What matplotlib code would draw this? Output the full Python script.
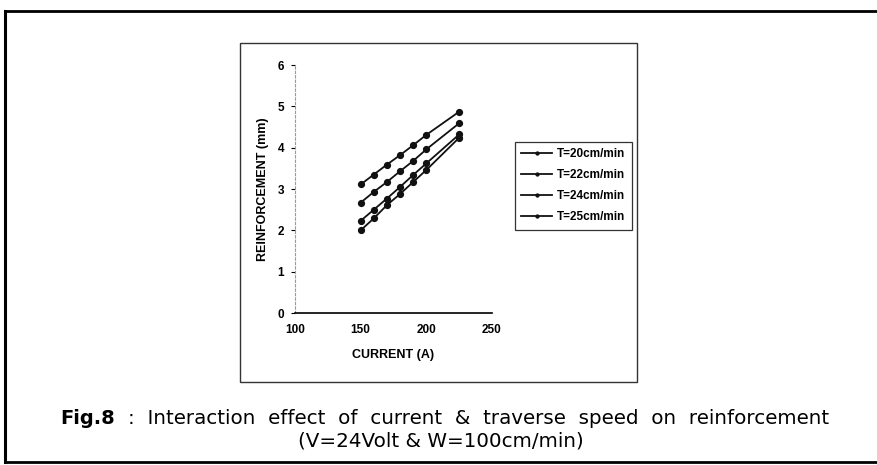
#!/usr/bin/env python3

import numpy as np
import matplotlib
matplotlib.use("Agg")
import matplotlib.pyplot as plt
from matplotlib.lines import Line2D
from matplotlib.patches import Rectangle

current = [150, 160, 170, 180, 190, 200, 225]
t20 = [3.11, 3.35, 3.59, 3.82, 4.06, 4.31, 4.87]
t22 = [2.67, 2.93, 3.17, 3.43, 3.68, 3.96, 4.59]
t24 = [2.23, 2.50, 2.77, 3.05, 3.34, 3.62, 4.32]
t25 = [2.00, 2.29, 2.61, 2.88, 3.17, 3.46, 4.24]
labels = ["T=20cm/min", "T=22cm/min", "T=24cm/min", "T=25cm/min"]
x_ticks = [100, 150, 200, 250]
y_ticks = [0, 1, 2, 3, 4, 5, 6]


def main():
  plt.rcParams["font.family"] = ["Liberation Sans", "DejaVu Sans"]
  fig = plt.figure(figsize=(8.77, 4.65), dpi=100)

  # page frame and chart box (figure coords)
  W, H = 877.0, 465.0
  fig.add_artist(Line2D([5 / W, 5 / W], [1 - 11 / H, 1 - 462 / H], color="black", lw=2.2))
  fig.add_artist(Line2D([5 / W, 1.0], [1 - 11 / H, 1 - 11 / H], color="black", lw=2.0))
  fig.add_artist(Line2D([5 / W, 1.0], [1 - 462 / H, 1 - 462 / H], color="black", lw=2.0))
  fig.add_artist(Rectangle((240 / W, 1 - 382 / H), (637 - 240) / W, (382 - 43) / H,
                           fill=False, edgecolor="#333333", lw=1.0))

  ax = fig.add_axes([295 / W, 1 - 313 / H, (492 - 295) / W, (313 - 65) / H])
  for y, lab in zip([t20, t22, t24, t25], labels):
    ax.plot(current, y, color="#111111", lw=1.3, marker="o", markersize=4.2, label=lab)

  ax.set_xlim(100, 250)
  ax.set_ylim(0, 6)
  ax.set_xticks(x_ticks)
  ax.set_yticks(y_ticks)
  ax.tick_params(axis="both", labelsize=8.5, length=3, width=0.8, pad=5)
  ax.tick_params(axis="x", length=0, pad=8)
  for t in ax.get_xticklabels() + ax.get_yticklabels():
    t.set_fontweight("bold")
  ax.spines["top"].set_visible(False)
  ax.spines["right"].set_visible(False)
  ax.spines["left"].set_color("#999999")
  ax.spines["left"].set_linestyle((0, (2, 2)))
  ax.spines["bottom"].set_linewidth(1.2)
  ax.set_xlabel("CURRENT (A)", fontsize=9, fontweight="bold", labelpad=9)
  ax.set_ylabel("REINFORCEMENT (mm)", fontsize=9, fontweight="bold", labelpad=6)

  leg = ax.legend(loc="upper left", bbox_to_anchor=(515 / W, 1 - 142 / H),
                  bbox_transform=fig.transFigure, frameon=True, fancybox=False,
                  prop={"size": 8.5, "weight": "bold"}, handlelength=2.6,
                  handletextpad=0.4, labelspacing=0.75, borderpad=0.55,
                  borderaxespad=0, markerscale=0.5)
  leg.get_frame().set_edgecolor("black")
  leg.get_frame().set_linewidth(0.9)

  cap = ["DejaVu Sans"]
  fig.text(60 / W, 1 - 418 / H, "Fig.8", fontsize=14, fontweight="bold",
           family=cap, va="center", ha="left")
  fig.text(128 / W, 1 - 418 / H,
           ":  Interaction  effect  of  current  &  traverse  speed  on  reinforcement",
           fontsize=14.3, family=cap, va="center", ha="left")
  fig.text(441 / W, 1 - 441 / H, "(V=24Volt & W=100cm/min)", fontsize=14.3,
           family=cap, va="center", ha="center")

  fig.savefig("out.png", dpi=100, facecolor="white")


if __name__ == "__main__":
  main()
